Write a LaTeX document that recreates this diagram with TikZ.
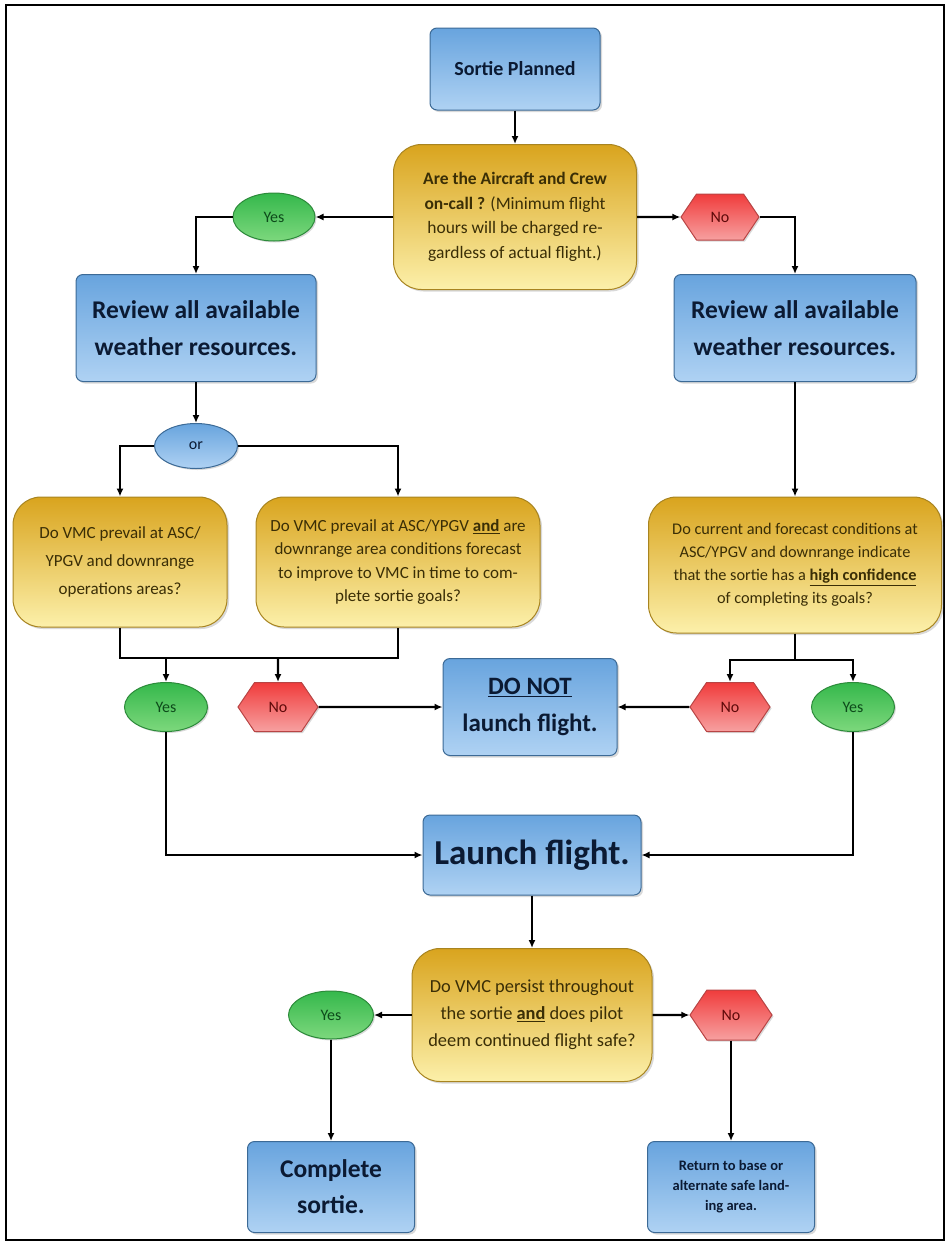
\documentclass[tikz,border=0pt]{standalone}
\usepackage{fontspec}
\setmainfont{Carlito}
\usetikzlibrary{shapes.geometric,shapes.symbols,arrows.meta,shadows}
\definecolor{bluetop}{HTML}{68A4DE}
\definecolor{bluebot}{HTML}{AFD2F3}
\definecolor{blueedge}{HTML}{3C6A96}
\definecolor{navytext}{HTML}{0B1A33}
\definecolor{goldtop}{HTML}{D9A41E}
\definecolor{goldbot}{HTML}{FCF0AA}
\definecolor{goldedge}{HTML}{A88420}
\definecolor{goldtext}{HTML}{3A2E06}
\definecolor{greentop}{HTML}{35B84C}
\definecolor{greenbot}{HTML}{7DD87D}
\definecolor{greenedge}{HTML}{2C8A3A}
\definecolor{greentext}{HTML}{0D4A1A}
\definecolor{redtop}{HTML}{F03C3C}
\definecolor{redbot}{HTML}{F7A0A0}
\definecolor{rededge}{HTML}{B84444}
\definecolor{redtext}{HTML}{5E0A0A}
\begin{document}
\begin{tikzpicture}[x=1pt,y=-1pt,
  bluebox/.style={draw=blueedge, line width=1pt, rounded corners=7pt, top color=bluetop, bottom color=bluebot, text=navytext, align=center, inner sep=2pt, drop shadow={opacity=0.3,shadow xshift=2pt,shadow yshift=-2pt}},
  goldbox/.style={draw=goldedge, line width=1pt, rounded corners=28pt, top color=goldtop, bottom color=goldbot, text=goldtext, align=center, inner sep=2pt, drop shadow={opacity=0.3,shadow xshift=2pt,shadow yshift=-2pt}},
  yesnode/.style={draw=greenedge, line width=1pt, ellipse, top color=greentop, bottom color=greenbot, text=greentext, inner sep=0pt, font=\fontsize{16}{18}\selectfont, drop shadow={opacity=0.3,shadow xshift=1.5pt,shadow yshift=-1.5pt}},
  nonode/.style={draw=rededge, line width=1pt, signal, signal to=east and west, signal pointer angle=112, top color=redtop, bottom color=redbot, text=redtext, inner sep=0pt, font=\fontsize{16}{18}\selectfont, drop shadow={opacity=0.3,shadow xshift=1.5pt,shadow yshift=-1.5pt}},
  ornode/.style={draw=blueedge, line width=1pt, ellipse, top color=bluetop, bottom color=bluebot, text=navytext, inner sep=0pt, font=\fontsize{16}{18}\selectfont, drop shadow={opacity=0.3,shadow xshift=1.5pt,shadow yshift=-1.5pt}},
  flow/.style={draw, line width=2.4pt, -{Latex[length=8pt,width=7pt]}},
  wire/.style={draw, line width=2.4pt}]
\useasboundingbox (0,0) rectangle (949,1243);
\draw[line width=2pt] (6,5) rectangle (944,1240);

\node[bluebox, minimum width=170pt, minimum height=82pt, font=\fontsize{20}{24}\selectfont\bfseries] (sortie) at (515,69) {Sortie Planned};
\node[goldbox, minimum width=243pt, minimum height=145pt, font=\fontsize{17.5}{24.5}\selectfont] (onCall) at (515,217) {\textbf{Are the Aircraft and Crew}\\\textbf{on-call ?} (Minimum flight\\hours will be charged re-\\gardless of actual flight.)};
\node[yesnode, minimum width=82pt, minimum height=48pt] (yesTop) at (274,217) {Yes};
\node[nonode, minimum width=78pt, minimum height=46pt] (noTop) at (720,217) {No};
\node[bluebox, minimum width=240pt, minimum height=107pt, font=\fontsize{25.5}{37}\selectfont\bfseries] (reviewL) at (196,328) {Review all available\\weather resources.};
\node[bluebox, minimum width=242pt, minimum height=107pt, font=\fontsize{25.5}{37}\selectfont\bfseries] (reviewR) at (795,328) {Review all available\\weather resources.};
\node[ornode, minimum width=83pt, minimum height=45pt] (orSplit) at (196,446) {or};
\node[goldbox, minimum width=214pt, minimum height=130pt, font=\fontsize{17}{28}\selectfont] (vmcNow) at (120,562) {Do VMC prevail at ASC/\\YPGV and downrange\\operations areas?};
\node[goldbox, minimum width=284pt, minimum height=130pt, font=\fontsize{17}{23.5}\selectfont] (vmcLater) at (398,562) {Do VMC prevail at ASC/YPGV \textbf{\underline{and}} are\\downrange area conditions forecast\\to improve to VMC in time to com-\\plete sortie goals?};
\node[goldbox, minimum width=293pt, minimum height=136pt, font=\fontsize{16.3}{23}\selectfont] (highConf) at (795,565) {Do current and forecast conditions at\\ASC/YPGV and downrange indicate\\that the sortie has a \textbf{\underline{high confidence}}\\of completing its goals?};
\node[yesnode, minimum width=83pt, minimum height=49pt] (yesL) at (166,707) {Yes};
\node[nonode, minimum width=80pt, minimum height=49pt] (noL) at (278,707) {No};
\node[bluebox, minimum width=174pt, minimum height=97pt, font=\fontsize{25}{37}\selectfont\bfseries] (doNot) at (530,707) {\underline{DO NOT}\\launch flight.};
\node[nonode, minimum width=80pt, minimum height=49pt] (noR) at (730,707) {No};
\node[yesnode, minimum width=83pt, minimum height=49pt] (yesR) at (853,707) {Yes};
\node[bluebox, minimum width=218pt, minimum height=80pt, font=\fontsize{35}{40}\selectfont\bfseries] (launch) at (532,855) {Launch flight.};
\node[goldbox, minimum width=240pt, minimum height=133pt, font=\fontsize{18.4}{27}\selectfont] (persist) at (532,1015) {Do VMC persist throughout\\the sortie \textbf{\underline{and}} does pilot\\deem continued flight safe?};
\node[yesnode, minimum width=85pt, minimum height=48pt] (yesEnd) at (331,1015) {Yes};
\node[nonode, minimum width=82pt, minimum height=50pt] (noEnd) at (731,1015) {No};
\node[bluebox, minimum width=167pt, minimum height=91pt, font=\fontsize{25.5}{36}\selectfont\bfseries] (complete) at (331,1187) {Complete\\sortie.};
\node[bluebox, minimum width=167pt, minimum height=91pt, font=\fontsize{14.5}{20}\selectfont\bfseries] (returnBase) at (731,1187) {Return to base or\\alternate safe land-\\ing area.};

\coordinate (joinL) at (120,658);
\coordinate (joinM) at (398,658);
\coordinate (joinR) at (795,660);

\path[flow] (sortie) -- (onCall);
\path[flow] (onCall) -- (yesTop);
\path[flow] (onCall) -- (noTop);
\path[flow] (yesTop) -| (reviewL);
\path[flow] (noTop) -| (reviewR);
\path[flow] (reviewL) -- (orSplit);
\path[flow] (orSplit) -| (vmcNow);
\path[flow] (orSplit) -| (vmcLater);
\path[flow] (reviewR) -- (highConf);
\path[wire] (vmcNow) -- (joinL) -- (joinM) -- (vmcLater);
\path[flow] (yesL |- joinL) -- (yesL);
\path[flow] (noL |- joinL) -- (noL);
\path[wire] (highConf) -- (joinR);
\path[flow] (joinR) -| (noR);
\path[flow] (joinR) -| (yesR);
\path[flow] (noL) -- (doNot);
\path[flow] (noR) -- (doNot);
\path[flow] (yesL) |- (launch);
\path[flow] (yesR) |- (launch);
\path[flow] (launch) -- (persist);
\path[flow] (persist) -- (yesEnd);
\path[flow] (persist) -- (noEnd);
\path[flow] (yesEnd) -- (complete);
\path[flow] (noEnd) -- (returnBase);
\end{tikzpicture}
\end{document}
